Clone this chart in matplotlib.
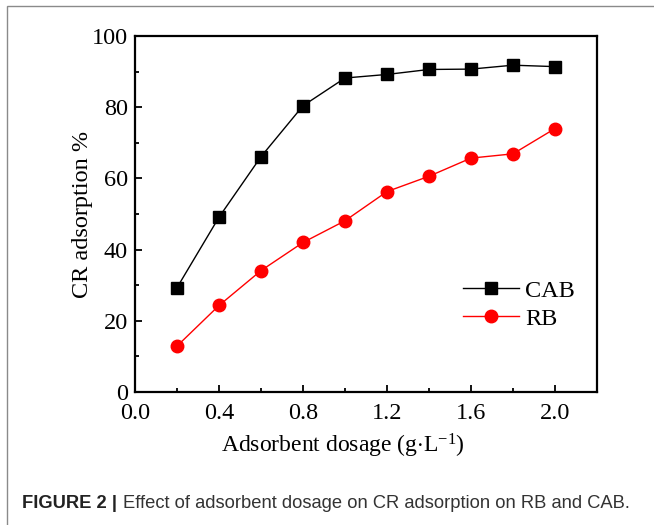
import matplotlib
matplotlib.use("Agg")
import matplotlib.pyplot as plt
from matplotlib.patches import Rectangle
from matplotlib.ticker import MultipleLocator, FormatStrFormatter

plt.rcParams['font.family'] = 'Liberation Serif'
plt.rcParams['mathtext.fontset'] = 'custom'
plt.rcParams['mathtext.rm'] = 'Liberation Serif'
plt.rcParams['mathtext.it'] = 'Liberation Serif:italic'

# adsorbent dosage (g/L) and CR removal (%)
dosage = [0.2, 0.4, 0.6, 0.8, 1.0, 1.2, 1.4, 1.6, 1.8, 2.0]
cab = [29.3, 49.1, 66.1, 80.4, 88.2, 89.2, 90.6, 90.7, 91.8, 91.4]
rb = [12.9, 24.3, 34.1, 42.0, 48.1, 56.3, 60.6, 65.7, 66.9, 74.0]

W, H = 654, 525
FS = 17.5
fig = plt.figure(figsize=(W / 100, H / 100), dpi=100)

# panel frame, only left and top edges are in view
fig.patches.append(Rectangle((7 / W, -0.2), 1.2, 1.2 - 6 / H, transform=fig.transFigure,
                             fill=False, edgecolor='#8a8a8a', lw=1.0))

ax = fig.add_axes([135 / W, 1 - 392 / H, (597 - 135) / W, (392 - 36) / H])
ax.plot(dosage, cab, color='black', lw=1.0, marker='s', ms=8, label='CAB')
ax.plot(dosage, rb, color='red', lw=1.0, marker='o', ms=9, label='RB')

ax.set_xlim(0, 2.2)
ax.set_ylim(0, 100)
ax.xaxis.set_major_locator(MultipleLocator(0.4))
ax.xaxis.set_minor_locator(MultipleLocator(0.2))
ax.xaxis.set_major_formatter(FormatStrFormatter('%.1f'))
ax.yaxis.set_major_locator(MultipleLocator(20))
ax.yaxis.set_minor_locator(MultipleLocator(10))
ax.tick_params(which='both', direction='in', top=False, right=False, width=1.3, labelsize=FS)
ax.tick_params(which='major', length=5)
ax.tick_params(which='minor', length=3)
ax.tick_params(axis='x', pad=8)
ax.tick_params(axis='y', pad=5)
for s in ax.spines.values():
    s.set_linewidth(1.6)

ax.set_ylabel('CR adsorption %', fontsize=FS)
ax.yaxis.set_label_coords(-0.09, 0.5)
ax.set_xlabel('Adsorbent dosage (g$\\cdot$L$^{\\mathregular{-1}}$)', fontsize=17)
ax.xaxis.set_label_coords(0.45, -0.112)

ax.legend(loc='center left', bbox_to_anchor=(0.71, 0.2456), frameon=False, fontsize=FS,
          handlelength=2.3, handletextpad=0.25, labelspacing=0.25, borderpad=0, borderaxespad=0)

fig.text(22 / W, 1 - 508 / H, 'FIGURE 2 |', fontfamily='Liberation Sans', fontweight='bold',
         fontsize=13.2, color='#222222', va='baseline')
fig.text(123 / W, 1 - 508 / H, 'Effect of adsorbent dosage on CR adsorption on RB and CAB.',
         fontfamily='Liberation Sans', fontsize=13.2, color='#333333', va='baseline')

fig.savefig('out.png', dpi=100)
